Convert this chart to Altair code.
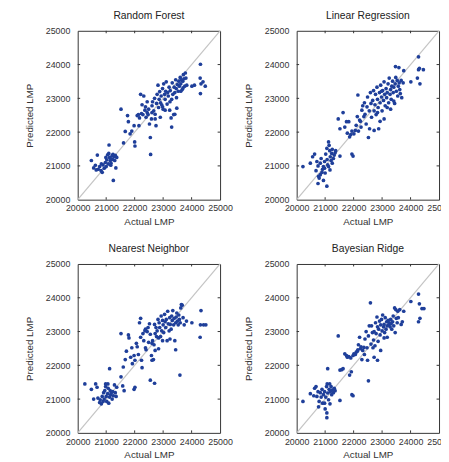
import altair as alt
import pandas as pd

# ---------------- data ----------------
rf_actual = [20480,20560,20620,20690,20720,20770,20820,20860,20890,20930,20970,20990,21020,21050,21070,21100,21120,21140,21160,21180,21210,21230,21250,21280,21300,21320,21340,21370,20650,20830,21000,21090,21170,21240,
    21520,21610,21670,21750,21780,21840,21900,21980,22000,22010,22090,22130,22170,22210,22240,22290,22320,22360,22380,22400,22440,22470,22490,22520,22550,22560,22590,22610,22630,22670,22700,22720,22750,22770,22790,22820,22840,22860,22880,22910,22930,22950,22980,23000,23020,23050,23070,23090,23110,23140,23160,23180,23210,23230,23250,23280,23300,23320,23340,23370,23390,23410,23440,23460,23480,23500,23530,23550,23570,23600,23620,23640,23670,23690,23710,23730,23760,23780,23800,23830,24010,24310,24300,24330,24310,24400,24480,24100,23070,22900,22720,22440,22260,22150,22610,22980,23240,23470,23620,23700,23300,23410]
rf_pred = [21160,20940,21020,21320,20900,20980,20860,20810,21030,20930,21100,21250,21180,21330,21060,21620,21250,21160,21020,21210,21310,21190,20570,21270,21160,21310,20940,21250,20880,21060,20980,21370,21080,21340,
    22680,21680,22020,22490,22310,21950,22030,22190,21710,21590,22490,22520,22420,23120,22550,22520,23070,22650,22750,22440,22580,22520,22680,22240,21840,21340,22390,22780,22900,22630,23000,22530,22190,22850,23120,23390,22730,22970,23200,22870,23070,22810,23290,22680,23430,23120,22970,23210,23490,22830,23170,23070,23330,22650,23230,22420,22970,23460,23120,22520,23330,23170,23550,23290,22710,23410,23210,23510,23360,23620,23430,23550,23260,23510,23700,23580,23360,23750,23600,23390,23360,24010,23600,23430,23140,23490,23360,23390,22650,22440,22390,22900,22810,22190,22580,22750,22900,23020,23210,23310,22150,22530]

lr_actual = [20220,20480,20560,20630,20680,20710,20750,20770,20790,20830,20860,20890,20910,20940,20980,21000,21020,21060,21070,21090,21120,21140,21160,21180,21210,21230,21250,21290,21320,21350,21370,21060,20750,20940,20830,20980,21120,21170,21250,21520,21940,21980,
    21460,21520,21630,21690,21750,21780,21830,21860,21900,21940,22010,22060,22090,22130,22150,22170,22210,22240,22260,22290,22320,22360,22380,22400,22440,22470,22490,22520,22550,22590,22610,22630,22670,22700,22720,22750,22770,22790,22820,22840,22860,22880,22910,22930,22950,22980,23000,23020,23050,23070,23090,23110,23140,23160,23180,23210,23230,23250,23280,23300,23320,23340,23370,23390,23410,23440,23460,23480,23500,23530,23550,23570,23600,23620,23640,23670,23690,23470,23590,23760,23740,24010,24240,24280,24330,24310,24450,24280,22930,23070,22840,22560,22720,23180,23300,23410,22980]
lr_pred = [20980,21080,21270,21350,20860,21130,21000,20690,20640,21080,21220,20810,20900,20980,21130,20790,21350,21520,21190,21030,21710,21610,21450,21270,21160,21370,21490,21220,21320,21390,21450,20400,20480,20570,20740,20930,20980,20880,21080,21290,21350,21290,
    22390,22100,22580,22150,22310,21970,22310,21860,21930,22030,21950,22050,22200,22460,23100,22030,22360,22320,22150,22650,22780,22460,22870,22530,22240,22750,23040,21840,22630,23170,22850,22440,22940,23230,22630,22810,23120,22520,23330,22970,22730,22100,23170,22870,23390,23040,22630,23230,22940,23490,23120,22780,23290,23020,23170,23430,22870,23600,23120,23260,22970,23360,23510,23170,23330,22850,23430,23620,23210,23530,23070,23360,23460,23260,23140,23530,23020,23940,23910,23820,23460,23490,23600,23850,23430,23890,23850,24230,22320,22390,22580,22100,22050,22730,22680,22920,23210]

nn_actual = [20250,20480,20560,20630,20680,20710,20770,20790,20830,20860,20890,20910,20930,20950,20980,21000,21020,21050,21070,21090,21120,21140,21160,21180,21210,21230,21250,21290,21320,21350,20980,21060,21120,21370,21580,21630,21520,21980,22010,
    21520,21600,21670,21710,21780,21800,21860,21900,21920,21980,22010,22060,22090,22130,22170,22210,22240,22260,22290,22320,22360,22380,22400,22440,22470,22490,22520,22550,22590,22610,22630,22660,22680,22700,22720,22750,22770,22790,22820,22840,22860,22880,22910,22930,22950,22980,23000,23020,23050,23070,23090,23110,23140,23160,23180,23210,23230,23250,23280,23300,23320,23340,23370,23390,23410,23440,23460,23480,23500,23530,23550,23570,23600,23620,23640,23670,23700,23740,23820,24010,24330,24310,24300,24420,24500,23440,23590,22550,22700,22210,22380,22840,22980,23240,22720,22610]
nn_pred = [21450,21290,21000,21450,21350,21030,20900,20980,20860,21080,20930,21190,21000,21250,21370,21080,20930,21160,21320,20880,21060,21250,21130,21190,21000,21220,21100,21420,21190,21080,21450,21450,21900,21350,21390,21250,21660,21290,21350,
    22940,21950,22170,22420,22900,22810,22240,22520,22050,22290,22150,22650,22550,22320,23260,23390,22150,21930,22940,22730,23020,23070,22460,23000,23120,22680,23230,22920,22290,22650,22730,22170,22610,23210,22940,23120,22850,23020,23360,22810,23260,23120,22850,23460,23020,23330,23200,22970,23510,23290,23120,23360,22730,23600,23230,23020,23410,23210,23070,23460,23330,23620,23200,23390,22730,23260,23430,23550,23310,23200,23490,23360,23260,23700,23800,23780,23410,23200,23310,23260,23620,23200,22830,23200,23200,22460,21710,21560,21470,22830,22520,22490,22730,22780,22440,22150]

br_actual = [20220,20480,20600,20630,20680,20710,20750,20770,20790,20830,20860,20890,20910,20940,20980,21000,21020,21050,21070,21090,21120,21140,21160,21180,21210,21230,21250,21290,21320,21350,21060,21060,20980,21170,21090,21520,21940,21980,
    21460,21520,21580,21630,21690,21750,21780,21830,21860,21900,21920,21980,22010,22060,22090,22130,22150,22170,22210,22240,22260,22290,22320,22360,22380,22400,22440,22470,22490,22520,22550,22590,22610,22630,22660,22680,22700,22720,22750,22770,22790,22820,22840,22860,22880,22910,22930,22950,22980,23000,23020,23050,23070,23090,23110,23140,23160,23180,23210,23230,23250,23280,23300,23320,23340,23370,23390,23410,23440,23460,23480,23500,23530,23550,23570,23620,23670,23710,23760,24010,24280,24310,24330,24280,24400,24470,22520,22720,22840,22950,23070,23180]
br_pred = [20930,21160,21100,21320,21370,21080,21220,20770,20930,21190,21060,21290,20880,21130,21220,20710,21060,21370,21450,21180,20980,21290,21450,21220,21370,21130,21270,21190,21320,21250,20590,20450,20880,20860,21900,20960,21130,21100,
    22870,21860,21870,21900,22340,22290,22240,22260,21710,22220,21810,22290,22340,22320,22390,22420,22460,22610,22830,22490,22550,22170,22440,22530,22320,22780,23000,22520,22150,22870,23170,23850,22630,23170,22970,22520,22750,23000,22580,23260,22940,23430,23140,22710,23070,23310,22900,23200,23360,23020,23490,23140,23210,22970,23410,23070,23290,23170,23330,23200,23260,23140,23360,23230,23070,23290,23460,23170,23700,22970,23650,23390,23260,23600,23410,23650,23210,23290,23600,23890,24110,23820,23390,23290,23680,23680,21540,22240,22150,22440,22810,22830]

titles = ["Random Forest", "Linear Regression", "Nearest Neighbor", "Bayesian Ridge"]
series = [(rf_actual, rf_pred), (lr_actual, lr_pred), (nn_actual, nn_pred), (br_actual, br_pred)]

axis_values = [20000, 21000, 22000, 23000, 24000, 25000]
inner_ticks = [21000, 22000, 23000, 24000]
domain = [20000, 25000]

W, H = 145, 172
FONT = "Liberation Sans"
POINT = "#1f3f9a"
TXT = "#333333"

xscale = alt.Scale(domain=domain, nice=False, zero=False)
yscale = alt.Scale(domain=domain, nice=False, zero=False)

common = dict(values=axis_values, format="d", grid=False, ticks=False, domain=False,
              labelFontSize=9, titleFontSize=10, titleFontWeight="normal",
              labelColor=TXT, titleColor=TXT, labelFont=FONT, titleFont=FONT,
              labelFlush=False, labelOverlap=False, tickCount=6)
xaxis = alt.Axis(title="Actual LMP", labelPadding=4.5, titlePadding=4, **common)
yaxis = alt.Axis(title="Predicted LMP", labelPadding=8, titlePadding=11, **common)


def panel(title, xs, ys):
    pts = pd.DataFrame({"actual": xs, "pred": ys})
    diag = pd.DataFrame({"v": domain})
    tk = pd.DataFrame({"t": inner_ticks})

    line = alt.Chart(diag).mark_line(color="#c4c4c4", strokeWidth=1.2).encode(
        x=alt.X("v:Q", scale=xscale, axis=xaxis, title="Actual LMP"),
        y=alt.Y("v:Q", scale=yscale, axis=yaxis, title="Predicted LMP"),
    )
    dots = alt.Chart(pts).mark_circle(size=14, color=POINT, opacity=1).encode(
        x=alt.X("actual:Q", scale=xscale, axis=xaxis, title="Actual LMP"),
        y=alt.Y("pred:Q", scale=yscale, axis=yaxis, title="Predicted LMP"),
    )
    tick_style = dict(color=TXT, strokeWidth=1)
    t_top = alt.Chart(tk).mark_rule(**tick_style).encode(
        x=alt.X("t:Q", scale=xscale, axis=xaxis, title="Actual LMP"),
        y=alt.value(0), y2=alt.value(2.5))
    t_bot = alt.Chart(tk).mark_rule(**tick_style).encode(
        x=alt.X("t:Q", scale=xscale, axis=xaxis, title="Actual LMP"),
        y=alt.value(H - 2.5), y2=alt.value(H))
    t_left = alt.Chart(tk).mark_rule(**tick_style).encode(
        y=alt.Y("t:Q", scale=yscale, axis=yaxis, title="Predicted LMP"),
        x=alt.value(0), x2=alt.value(2.5))
    t_right = alt.Chart(tk).mark_rule(**tick_style).encode(
        y=alt.Y("t:Q", scale=yscale, axis=yaxis, title="Predicted LMP"),
        x=alt.value(W - 2.5), x2=alt.value(W))

    return alt.layer(line, dots, t_top, t_bot, t_left, t_right).properties(
        width=W, height=H,
        title=alt.TitleParams(title, fontSize=10.5, fontWeight="normal", font=FONT,
                              color="#222222", offset=5.5),
    )


panels = [panel(t, xs, ys) for t, (xs, ys) in zip(titles, series)]

chart = alt.vconcat(
    alt.hconcat(panels[0], panels[1], spacing=9),
    alt.hconcat(panels[2], panels[3], spacing=9),
    spacing=16.5,
).configure(
    padding={"left": 16, "top": -2, "right": -12, "bottom": 0},
    background="white",
    view=alt.ViewConfig(stroke="#333333", strokeWidth=1),
)

chart.save("out.html", embed_options={"renderer": "svg", "actions": False})
